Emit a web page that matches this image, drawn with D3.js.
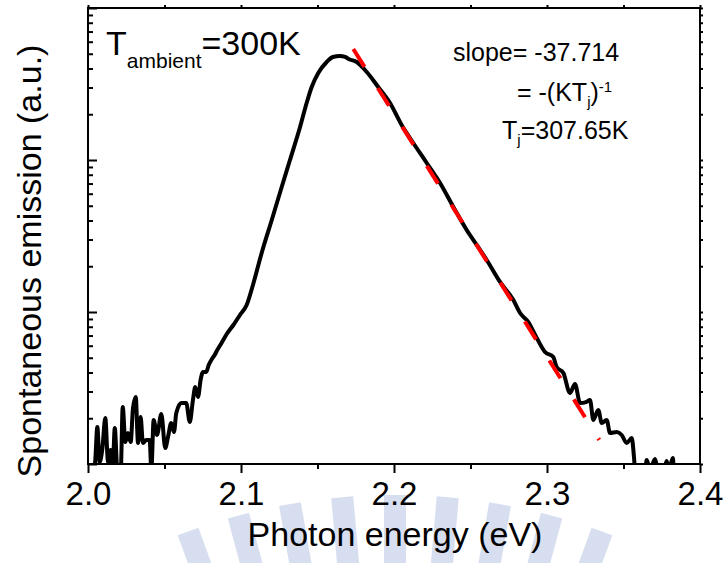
<!DOCTYPE html>
<html>
<head>
<meta charset="utf-8">
<script src="https://cdn.jsdelivr.net/npm/d3@7"></script>
<style>
  body { margin: 0; background: #fff; }
  text { font-family: "Liberation Sans", Arial, sans-serif; }
</style>
</head>
<body>
<script>
// Spectrum: photon energy (eV) and emission (a.u., log axis)
var energy = [2.0026, 2.0046, 2.0061, 2.0076, 2.0093, 2.0113, 2.0131, 2.0148, 2.0161, 2.0175,
  2.0192, 2.0214, 2.0227, 2.0244, 2.0261, 2.0279, 2.0294, 2.0312, 2.0327, 2.0344,
  2.0359, 2.0381, 2.0403, 2.0414, 2.0429, 2.0451, 2.0479, 2.0505, 2.0523, 2.0544,
  2.0562, 2.0577, 2.0610, 2.0642, 2.0665, 2.0686, 2.0701, 2.0719, 2.0737, 2.0752,
  2.0773, 2.0789, 2.0810, 2.0828, 2.0845, 2.0869, 2.0907, 2.0950, 2.0993, 2.1037,
  2.1080, 2.1135, 2.1201, 2.1266, 2.1320, 2.1386, 2.1429, 2.1462, 2.1505, 2.1560,
  2.1601, 2.1647, 2.1680, 2.1712, 2.1756, 2.1822, 2.1897, 2.1974, 2.2050, 2.2126,
  2.2214, 2.2301, 2.2388, 2.2475, 2.2541, 2.2606, 2.2693, 2.2780, 2.2824, 2.2878,
  2.2933, 2.2987, 2.3041, 2.3063, 2.3107, 2.3150, 2.3183, 2.3216, 2.3255, 2.3281,
  2.3303, 2.3335, 2.3358, 2.3390, 2.3412, 2.3456, 2.3488, 2.3521, 2.3554, 2.3569,
  2.3578, 2.3641, 2.3652, 2.3673, 2.3706, 2.3725, 2.3765, 2.3782, 2.3797, 2.3822, 2.3830];
var emission = [0.846, 1.015, 1.752, 1.031, 1.236, 2.007, 1.031, 1.236, 0.913, 1.725,
  0.913, 0.913, 2.371, 1.395, 1.599, 1.395, 2.335, 2.760, 1.374, 2.038,
  1.374, 1.438, 1.438, 0.913, 1.948, 1.552, 2.133, 1.274, 1.505, 1.861,
  1.623, 2.165, 2.519, 2.519, 1.889, 2.637, 3.211, 2.760, 3.625, 4.030,
  4.030, 4.479, 4.908, 5.214, 5.623, 6.158, 7.166, 8.214, 9.557, 11.12,
  15.29, 24.44, 40.30, 66.45, 100.0, 164.9, 237.1, 302.2, 373.6, 441.3,
  476.1, 483.4, 476.1, 458.4, 441.3, 379.3, 302.2, 237.1, 169.9, 129.4,
  95.57, 70.59, 49.08, 34.63, 27.60, 21.99, 15.76, 11.99, 9.849, 8.595,
  6.745, 5.457, 5.057, 4.346, 3.969, 2.932, 3.360, 2.519, 2.557, 2.637,
  1.948, 2.266, 1.861, 1.948, 1.599, 1.623, 1.552, 1.374, 1.483, 1.095,
  0.846, 0.913, 1.062, 0.913, 1.079, 0.913, 0.913, 1.046, 0.913, 1.095, 0.846];

// linear fit on the high-energy tail (ends of the red dashed line)
var fitEnergy = [2.1734, 2.3342];
var fitEmission = [537, 1.44];

var xTicks = [2.0, 2.1, 2.2, 2.3, 2.4];
var xTickLabels = ["2.0", "2.1", "2.2", "2.3", "2.4"];
var xMinorTicks = [2.05, 2.15, 2.25, 2.35];

var w = 728;
var h = 563;
var margin = {top: 8, right: 28, bottom: 99, left: 88};
var iw = w - margin.left - margin.right;
var ih = h - margin.top - margin.bottom;

var svg = d3.select("body").append("svg").attr("width", w).attr("height", h);

// faint watermark behind the chart
var wm = svg.append("g").attr("fill", "#c6d1ea").attr("opacity", 0.7);
[-20, -15, -10, -5, 0, 5, 10, 15, 20].forEach(function(a) {
  wm.append("rect")
    .attr("x", -11).attr("y", -605).attr("width", 22).attr("height", 70)
    .attr("transform", "translate(395,1100) rotate(" + a + ")");
});

var g = svg.append("g").attr("transform", "translate(" + margin.left + "," + margin.top + ")");

var x = d3.scaleLinear().domain([2.0, 2.4]).range([0, iw]);
var y = d3.scaleLog().domain([1, 1000]).range([ih, 0]);

g.append("clipPath").attr("id", "plot").append("rect")
  .attr("width", iw).attr("height", ih);

var yAll = y.ticks();
var yMajor = yAll.filter(function(d) { return Math.abs(Math.log10(d) - Math.round(Math.log10(d))) < 1e-9; });
var yMinor = yAll.filter(function(d) { return yMajor.indexOf(d) < 0; });

function styleAxis(sel) {
  sel.select(".domain").remove();
  sel.selectAll("line").attr("stroke", "#000").attr("stroke-width", 2);
}

// bottom axis, ticks outward
g.append("g").attr("transform", "translate(0," + ih + ")")
  .call(d3.axisBottom(x).tickValues(xMinorTicks).tickSize(5).tickFormat(""))
  .call(styleAxis);
var xb = g.append("g").attr("transform", "translate(0," + ih + ")")
  .call(d3.axisBottom(x).tickValues(xTicks).tickSize(9)
    .tickFormat(function(d, i) { return xTickLabels[i]; }))
  .call(styleAxis);
xb.selectAll("text").attr("y", 41).attr("dy", 0)
  .attr("fill", "#000").style("font-size", "33px")
  .style("font-family", "'Liberation Sans', Arial, sans-serif");

// top axis, tiny outward ticks
g.append("g")
  .call(d3.axisTop(x).tickValues(xTicks.concat(xMinorTicks)).tickSize(3).tickFormat(""))
  .call(styleAxis);

// left axis, ticks inward
g.append("g").call(d3.axisLeft(y).tickValues(yMinor).tickSize(-5).tickFormat("")).call(styleAxis);
g.append("g").call(d3.axisLeft(y).tickValues(yMajor).tickSize(-9).tickFormat("")).call(styleAxis);

// right axis, tiny outward ticks
g.append("g").attr("transform", "translate(" + iw + ",0)")
  .call(d3.axisRight(y).tickValues(yAll).tickSize(3).tickFormat(""))
  .call(styleAxis);

var line = d3.line()
  .x(function(d) { return x(d[0]); })
  .y(function(d) { return y(d[1]); })
  .curve(d3.curveMonotoneX);

g.append("path")
  .datum(d3.zip(energy, emission))
  .attr("clip-path", "url(#plot)")
  .attr("fill", "none").attr("stroke", "#000").attr("stroke-width", 4)
  .attr("stroke-linejoin", "round")
  .attr("d", line);

g.append("path")
  .datum(d3.zip(fitEnergy, fitEmission))
  .attr("fill", "none").attr("stroke", "#ff0000").attr("stroke-width", 4)
  .attr("stroke-dasharray", "21,25")
  .attr("d", d3.line().x(function(d) { return x(d[0]); }).y(function(d) { return y(d[1]); }));

// frame
g.append("rect").attr("width", iw).attr("height", ih)
  .attr("fill", "none").attr("stroke", "#000").attr("stroke-width", 2);

// annotations
var t1 = svg.append("text").attr("x", 106).attr("y", 55).style("font-size", "34px");
t1.append("tspan").text("T");
t1.append("tspan").attr("dy", 13).style("font-size", "21px").text("ambient");
t1.append("tspan").attr("dy", -13).text("=300K");

svg.append("text").attr("x", 453).attr("y", 61).style("font-size", "25px").text("slope= -37.714");

var t2 = svg.append("text").attr("x", 517).attr("y", 101).style("font-size", "25px");
t2.append("tspan").text("= -(KT");
t2.append("tspan").attr("dy", 6).style("font-size", "15px").text("j");
t2.append("tspan").attr("dy", -6).text(")");
t2.append("tspan").attr("dy", -9).style("font-size", "15px").text("-1");

var t3 = svg.append("text").attr("x", 502).attr("y", 139).style("font-size", "25px");
t3.append("tspan").text("T");
t3.append("tspan").attr("dy", 6).style("font-size", "15px").text("j");
t3.append("tspan").attr("dy", -6).text("=307.65K");

// axis titles
svg.append("text").attr("x", 395).attr("y", 546).attr("text-anchor", "middle")
  .style("font-size", "34px").text("Photon energy (eV)");
svg.append("text").attr("transform", "translate(41,261) rotate(-90)").attr("text-anchor", "middle")
  .style("font-size", "34px").text("Spontaneous emission (a.u.)");
</script>
</body>
</html>
